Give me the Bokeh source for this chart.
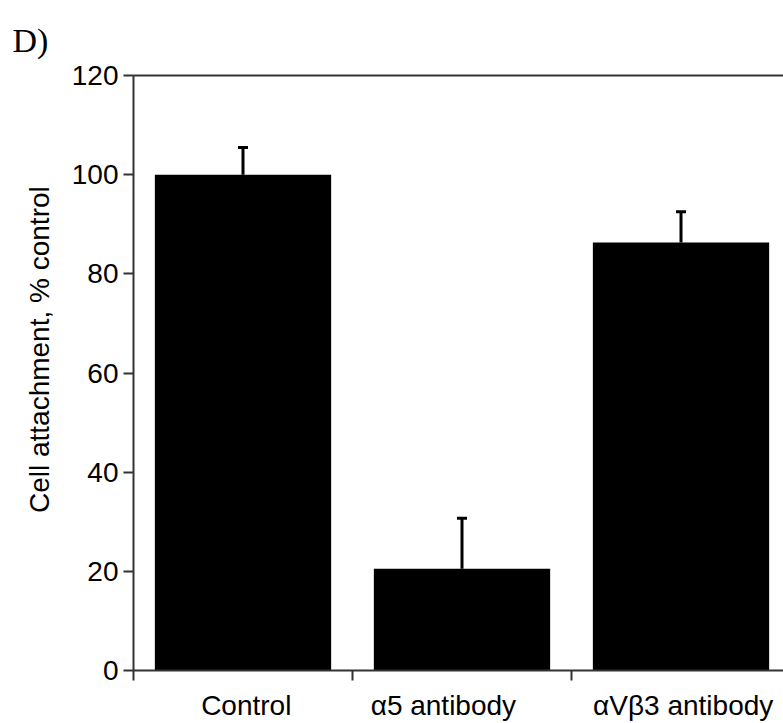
from bokeh.plotting import figure
from bokeh.models import (Range1d, LinearAxis, FixedTicker, Whisker,
                          TeeHead, ColumnDataSource)
from bokeh.embed import file_html
from bokeh.resources import INLINE

# ---- data ----
categories = ["Control", "α5 antibody", "αVβ3 antibody"]
attachment = [100.0, 20.5, 86.3]      # Cell attachment, % control
error_up = [5.5, 10.2, 6.2]           # upper error bar length
y_ticks = [0, 20, 40, 60, 80, 100, 120]

xpos = [i + 0.5 for i in range(len(categories))]
upper = [a + e for a, e in zip(attachment, error_up)]
src = ColumnDataSource(dict(x=xpos, top=attachment, upper=upper))

AX = "#333333"
FONT = "Liberation Sans"

p = figure(width=783, height=723, x_range=Range1d(0, 2.968), y_range=Range1d(0, 120),
           output_backend="svg", toolbar_location=None,
           min_border_left=133, min_border_right=0, min_border_top=75, min_border_bottom=53)
p.outline_line_color = None
p.xgrid.visible = False
p.ygrid.visible = False
p.background_fill_color = "white"
p.border_fill_color = "white"

# panel letter as title
p.title.text = "D)"
p.title.text_font = "Liberation Serif"
p.title.text_font_size = "34px"
p.title.text_font_style = "normal"
p.title.text_color = "black"
p.title.text_line_height = 0.3
p.title.align = "left"
p.title.vertical_align = "top"
p.title.offset = -121
p.title.standoff = 30

# bars
p.vbar(x="x", top="top", bottom=0, width=0.805, source=src,
       fill_color="black", line_color=None)

# error bars (upper only)
w = Whisker(base="x", upper="upper", lower="top", source=src,
            upper_head=TeeHead(size=10, line_width=3, line_color="black"),
            lower_head=None, line_width=3, line_color="black")
p.add_layout(w)

# y axis
ya = p.yaxis[0]
ya.ticker = FixedTicker(ticks=y_ticks)
ya.axis_line_color = AX
ya.axis_line_width = 2
ya.major_tick_line_color = AX
ya.major_tick_line_width = 2
ya.major_tick_out = 10
ya.major_tick_in = 0
ya.minor_tick_line_color = None
ya.major_label_text_font = FONT
ya.major_label_text_font_size = "28px"
ya.major_label_text_color = "black"
ya.major_label_standoff = 5
ya.axis_label = "\u00a0" * 6 + "Cell attachment, % control"
ya.axis_label_text_font = FONT
ya.axis_label_text_font_size = "28px"
ya.axis_label_text_font_style = "normal"
ya.axis_label_text_color = "black"
ya.axis_label_standoff = 14

# x axis: category labels at major ticks, separator marks as minor ticks
label_x = [0.515, 1.415, 2.51]
xa = p.xaxis[0]
xa.ticker = FixedTicker(ticks=label_x, minor_ticks=[0, 1, 2])
xa.major_label_overrides = {lx: c for lx, c in zip(label_x, categories)}
xa.axis_line_color = AX
xa.axis_line_width = 2
xa.major_tick_line_color = None
xa.major_tick_out = 0
xa.major_tick_in = 0
xa.minor_tick_line_color = AX
xa.minor_tick_line_width = 2
xa.minor_tick_out = 10
xa.minor_tick_in = 0
xa.major_label_text_font = FONT
xa.major_label_text_font_size = "28px"
xa.major_label_text_color = "black"
xa.major_label_standoff = 9

# top border line
top = LinearAxis(ticker=FixedTicker(ticks=[]), axis_line_color=AX, axis_line_width=2,
                 major_label_text_font_size="0px", major_tick_line_color=None,
                 minor_tick_line_color=None)
p.add_layout(top, "above")

open("out.html", "w").write(file_html(p, INLINE))
